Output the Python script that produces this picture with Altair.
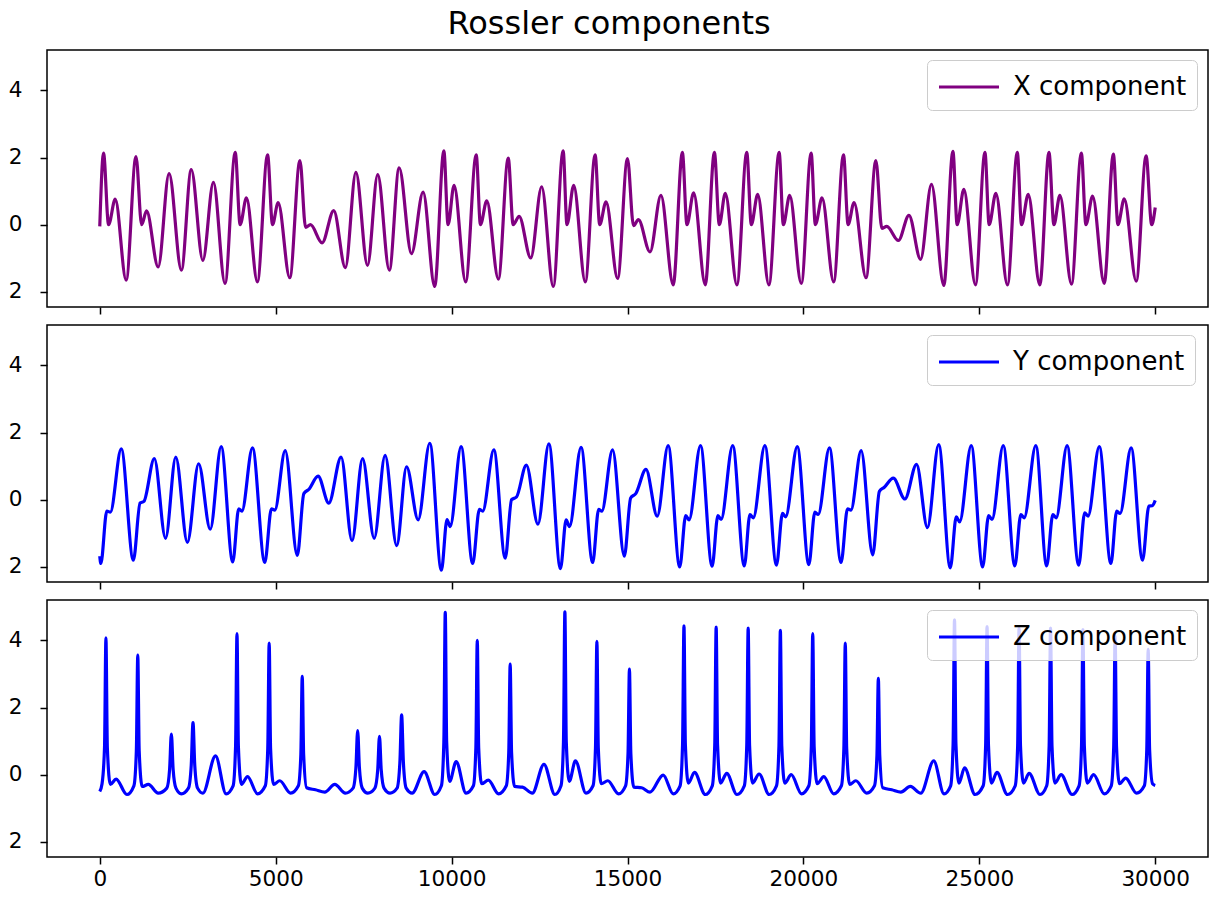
import altair as alt
import pandas as pd

FONT = "DejaVu Sans"

# ---------------- data ----------------
x_t = [0, 107, 250, 440, 750, 1030, 1190, 1330, 1660, 1970, 2320, 2600, 2930, 3230,
       3560, 3850, 3990, 4170, 4480, 4770, 4910, 5070, 5400, 5690, 5850, 5990, 6320,
       6650, 6980, 7280, 7610, 7900, 8230, 8510, 8860, 9190, 9520, 9780, 9900, 10070,
       10400, 10700, 10820, 11000, 11330, 11610, 11750, 11920, 12250, 12560, 12890,
       13170, 13280, 13470, 13800, 14080, 14210, 14390, 14720, 15000, 15170, 15310,
       15640, 15950, 16300, 16560, 16690, 16880, 17210, 17470, 17610, 17780, 18110,
       18390, 18520, 18700, 19020, 19310, 19430, 19610, 19940, 20220, 20340, 20530,
       20860, 21140, 21270, 21440, 21780, 22060, 22230, 22370, 22700, 23000, 23330,
       23640, 23990, 24250, 24370, 24560, 24890, 25160, 25280, 25470, 25800, 26080,
       26200, 26390, 26720, 26980, 27120, 27290, 27620, 27900, 28030, 28220, 28550,
       28810, 28940, 29120, 29460, 29740, 29900, 30000]
x_v = [-0.05, 2.13, 0.0, 0.76, -1.65, 2.03, 0.0, 0.41, -1.26, 1.52, -1.35, 1.64, -1.06, 1.26,
       -1.75, 2.15, 0.0, 0.8, -1.7, 2.08, 0.0, 0.66, -1.58, 1.91, -0.08, 0.0, -0.54,
       0.42, -1.28, 1.56, -1.21, 1.49, -1.35, 1.69, -0.86, 0.97, -1.84, 2.2, 0.0, 1.17,
       -1.7, 2.08, 0.0, 0.71, -1.62, 1.98, 0.0, 0.25, -0.99, 1.13, -1.84,
       2.2, 0.0, 1.17, -1.7, 2.08, 0.0, 0.68, -1.6, 1.97, -0.03, 0.15,
       -0.81, 0.87, -1.79, 2.15, 0.0, 0.95, -1.79, 2.15, 0.0, 0.93, -1.79,
       2.15, 0.0, 0.9, -1.79, 2.15, 0.0, 0.87, -1.75, 2.13, 0.0, 0.8,
       -1.7, 2.08, 0.0, 0.66, -1.58, 1.91, -0.11, -0.05, -0.47, 0.28, -1.03,
       1.2, -1.81, 2.18, 0.0, 1.05, -1.79, 2.15, 0.0, 0.93, -1.79, 2.15,
       0.0, 0.9, -1.79, 2.15, 0.0, 0.87, -1.77, 2.13, 0.0, 0.85, -1.75,
       2.1, 0.0, 0.77, -1.68, 2.05, 0.0, 0.51]

y_t = [0, 30, 200, 300, 610, 955, 1145, 1255, 1550, 1870, 2160, 2490, 2810, 3140,
       3450, 3780, 3950, 4040, 4340, 4690, 4880, 4975, 5270, 5615, 5800, 5945, 6205,
       6510, 6860, 7170, 7470, 7800, 8110, 8440, 8720, 9050, 9380, 9710, 9870, 9960,
       10270, 10600, 10790, 10885, 11200, 11525, 11705, 11845, 12125, 12455, 12765,
       13095, 13255, 13350, 13680, 14010, 14180, 14270, 14575, 14910, 15090, 15235,
       15525, 15845, 16155, 16485, 16655, 16750, 17075, 17405, 17570, 17660, 17990,
       18320, 18480, 18575, 18905, 19235, 19405, 19495, 19825, 20155, 20325, 20420,
       20740, 21070, 21255, 21350, 21640, 21970, 22160, 22300, 22555, 22885, 23215,
       23525, 23845, 24175, 24345, 24440, 24770, 25095, 25265, 25360, 25680, 26010,
       26180, 26275, 26605, 26915, 27090, 27185, 27495, 27825, 27995, 28090, 28410,
       28740, 28905, 29000, 29315, 29640, 29820, 29915, 30000]
y_v = [-1.68, -1.9, -0.34, -0.37, 1.51, -1.8, -0.1, -0.05, 1.22, -1.15, 1.27, -1.27, 1.07, -0.88,
       1.58, -1.85, -0.27, -0.34, 1.54, -1.87, -0.27, -0.31, 1.46, -1.66, 0.18, 0.31, 0.7,
       -0.1, 1.27, -1.22, 1.22, -1.15, 1.32, -1.37, 0.98, -0.6, 1.68, -2.1, -0.59, -0.8,
       1.58, -1.9, -0.29, -0.34, 1.48, -1.74, 0.0, 0.08, 1.03, -0.73, 1.66,
       -2.05, -0.6, -0.8, 1.56, -1.87, -0.29, -0.34, 1.48, -1.68, 0.05, 0.18,
       0.9, -0.49, 1.61, -2.0, -0.47, -0.6, 1.61, -1.98, -0.47, -0.59, 1.61,
       -1.97, -0.44, -0.54, 1.61, -1.95, -0.41, -0.51, 1.58, -1.93, -0.37, -0.44,
       1.54, -1.87, -0.27, -0.31, 1.46, -1.64, 0.25, 0.37, 0.64, 0.02, 1.05,
       -0.83, 1.64, -2.03, -0.51, -0.66, 1.61, -2.0, -0.47, -0.59, 1.61, -1.97,
       -0.44, -0.54, 1.61, -1.97, -0.44, -0.54, 1.61, -1.95, -0.39, -0.49, 1.58,
       -1.9, -0.34, -0.41, 1.54, -1.8, -0.19, -0.18, -0.02]

z_t = [0, 65, 135, 175, 215, 300, 465, 770,
       970, 1040, 1080, 1120, 1205, 1380, 1660,
       1905, 1985, 2035, 2085, 2165, 2320,
       2520, 2600, 2650, 2700, 2780, 2930,
       3290, 3590,
       3790, 3860, 3900, 3940, 4025, 4200, 4485,
       4705, 4775, 4815, 4855, 4940, 5115, 5425,
       5645, 5715, 5755, 5795, 5880, 6130, 6395, 6680, 6980,
       7200, 7280, 7330, 7380, 7460, 7620,
       7820, 7900, 7950, 8000, 8080, 8250,
       8450, 8530, 8580, 8630, 8710, 8880,
       9220, 9520,
       9710, 9780, 9820, 9860, 9945, 10130, 10410,
       10620, 10690, 10730, 10770, 10855, 11045, 11335,
       11555, 11625, 11665, 11705, 11790, 12015, 12295,
       12625, 12935,
       13110, 13180, 13220, 13260, 13345, 13520, 13820,
       14020, 14090, 14130, 14170, 14255, 14440, 14745,
       14945, 15015, 15055, 15095, 15180, 15400, 15640,
       16015, 16300,
       16495, 16565, 16605, 16645, 16730, 16905, 17210,
       17410, 17480, 17520, 17560, 17645, 17820, 18110,
       18320, 18390, 18430, 18470, 18555, 18740, 19025,
       19235, 19305, 19345, 19385, 19470, 19655, 19945,
       20155, 20225, 20265, 20305, 20390, 20580, 20860,
       21080, 21150, 21190, 21230, 21315, 21490, 21800,
       22020, 22090, 22130, 22170, 22255, 22510, 22770,
       23040, 23335, 23705, 23995,
       24185, 24255, 24295, 24335, 24420, 24580, 24880,
       25110, 25180, 25220, 25260, 25345, 25500, 25800,
       26020, 26090, 26130, 26170, 26255, 26415, 26725,
       26915, 26985, 27025, 27065, 27150, 27325, 27635,
       27835, 27905, 27945, 27985, 28070, 28250, 28550,
       28750, 28820, 28860, 28900, 28985, 29160, 29470,
       29690, 29760, 29800, 29840, 29925, 30000]
z_v = [-0.5, -0.27, 0.81, 4.07, 0.81, -0.29, -0.13, -0.59,
       -0.33, 0.71, 3.56, 0.71, -0.35, -0.29, -0.55,
       -0.4, 0.16, 1.21, 0.16, -0.4, -0.57,
       -0.4, 0.28, 1.55, 0.28, -0.4, -0.55,
       0.56, -0.57,
       -0.33, 0.84, 4.2, 0.84, -0.29, -0.06, -0.57,
       -0.33, 0.78, 3.92, 0.78, -0.29, -0.18, -0.55,
       -0.33, 0.59, 2.93, 0.59, -0.39, -0.45, -0.52, -0.29, -0.55,
       -0.4, 0.2, 1.31, 0.2, -0.4, -0.55,
       -0.4, 0.14, 1.14, 0.14, -0.4, -0.55,
       -0.4, 0.36, 1.78, 0.36, -0.4, -0.55,
       0.09, -0.59,
       -0.33, 0.97, 4.83, 0.97, -0.2, 0.39, -0.55,
       -0.33, 0.8, 4.0, 0.8, -0.27, -0.16, -0.57,
       -0.33, 0.66, 3.29, 0.66, -0.35, -0.37, -0.55,
       0.31, -0.59,
       -0.33, 0.97, 4.85, 0.97, -0.2, 0.41, -0.55,
       -0.33, 0.79, 3.97, 0.79, -0.27, -0.18, -0.57,
       -0.33, 0.63, 3.14, 0.63, -0.37, -0.39, -0.52,
       -0.01, -0.57,
       -0.33, 0.89, 4.43, 0.89, -0.25, 0.07, -0.59,
       -0.33, 0.88, 4.39, 0.88, -0.25, 0.04, -0.59,
       -0.33, 0.87, 4.36, 0.87, -0.25, 0.02, -0.59,
       -0.33, 0.86, 4.3, 0.86, -0.25, 0.0, -0.57,
       -0.33, 0.84, 4.2, 0.84, -0.27, -0.06, -0.57,
       -0.33, 0.78, 3.92, 0.78, -0.29, -0.18, -0.55,
       -0.33, 0.57, 2.87, 0.57, -0.39, -0.45, -0.52,
       -0.35, -0.55, 0.41, -0.57,
       -0.33, 0.92, 4.61, 0.92, -0.25, 0.2, -0.59,
       -0.33, 0.88, 4.41, 0.88, -0.25, 0.07, -0.59,
       -0.33, 0.87, 4.36, 0.87, -0.25, 0.04, -0.59,
       -0.33, 0.87, 4.36, 0.87, -0.25, 0.0, -0.59,
       -0.33, 0.86, 4.32, 0.86, -0.25, 0.0, -0.57,
       -0.33, 0.83, 4.14, 0.83, -0.27, -0.1, -0.55,
       -0.33, 0.75, 3.73, 0.75, -0.27, -0.32]

series_names = ["X component", "Y component", "Z component"]
series_colors = ["purple", "blue", "blue"]
x_ticks = [0, 5000, 10000, 15000, 20000, 25000, 30000]
y_ticks = [-2, 0, 2, 4]
x_domain = [-1500, 31500]
y_domain = [-2.45, 5.2]
title_text = "Rossler components"

PLOT_W = 1161
PLOT_H = 257


def panel(t, v, name, color, show_labels):
    df = pd.DataFrame({"t": t, "v": v, "series": [name] * len(t)})
    return (
        alt.Chart(df)
        .mark_line(strokeWidth=3.2, interpolate="monotone")
        .encode(
            x=alt.X(
                "t:Q",
                scale=alt.Scale(domain=x_domain, nice=False, zero=False),
                axis=alt.Axis(
                    values=x_ticks, labels=show_labels, title=None, domain=False,
                    ticks=True, tickSize=7, tickWidth=1.5, tickColor="black",
                    labelFont=FONT, labelFontSize=21.6, labelColor="black",
                    labelPadding=4, grid=False, format="d",
                ),
            ),
            y=alt.Y(
                "v:Q",
                scale=alt.Scale(domain=y_domain, nice=False, zero=False),
                axis=alt.Axis(
                    values=y_ticks, title=None, domain=False, ticks=True,
                    tickSize=7, tickWidth=1.5, tickColor="black",
                    labelFont=FONT, labelFontSize=21.6, labelColor="black",
                    labelPadding=18, grid=False, format="d",
                ),
            ),
            color=alt.Color(
                "series:N",
                scale=alt.Scale(domain=[name], range=[color]),
                legend=alt.Legend(
                    title=None, orient="none", legendX=PLOT_W - 281, legendY=10,
                    symbolType="M-2,0H2", symbolSize=900, symbolStrokeWidth=3.2,
                    symbolOffset=15, labelOffset=27, labelFontSize=26,
                    labelLimit=400,
                    labelFont=FONT, labelColor="black", padding=10,
                    fillColor="rgba(255,255,255,0.8)", strokeColor="#cccccc",
                    cornerRadius=5,
                ),
            ),
        )
        .properties(width=PLOT_W, height=PLOT_H)
    )


p1 = panel(x_t, x_v, series_names[0], series_colors[0], False)
p2 = panel(y_t, y_v, series_names[1], series_colors[1], False)
p3 = panel(z_t, z_v, series_names[2], series_colors[2], True)

chart = (
    alt.vconcat(p1, p2, p3, spacing=8)
    .resolve_scale(color="independent")
    .resolve_legend(color="independent")
    .properties(
        title=alt.TitleParams(
            title_text, fontSize=32, font=FONT, fontWeight="normal",
            color="black", anchor="middle", offset=8, dx=10,
        ),
        padding={"left": -19, "top": 0, "right": 0, "bottom": 0},
    )
    .configure_view(stroke="black", strokeWidth=1.5)
)

chart.save("out.html", embed_options={"renderer": "svg", "actions": False})
